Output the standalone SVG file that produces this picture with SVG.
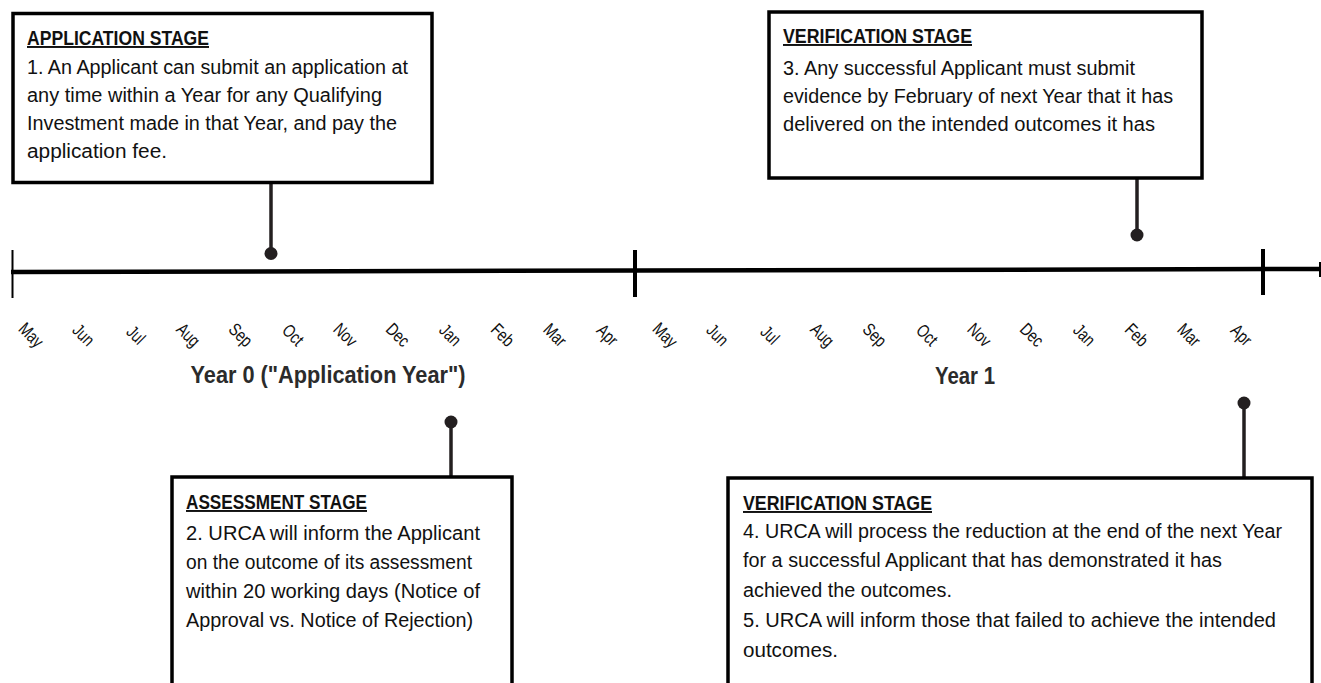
<svg xmlns="http://www.w3.org/2000/svg" width="1321" height="683" viewBox="0 0 1321 683">
<style>
.box{fill:#fff;stroke:#000;stroke-width:3.5}
.t{font-family:"Liberation Sans",Arial,sans-serif;font-size:19.5px;fill:#111}
.h{font-weight:bold;text-decoration:underline}
.m{font-family:"Liberation Sans",Arial,sans-serif;font-size:18px;fill:#111;text-anchor:middle}
.yr{font-family:"Liberation Sans",Arial,sans-serif;font-size:23px;font-weight:bold;fill:#2b2b2b;text-anchor:middle}
.con{stroke:#231f20;stroke-width:3.5;fill:none}
.dot{fill:#231f20}
.tick{stroke:#000;stroke-width:4}
</style>
<rect width="1321" height="683" fill="#fff"/>
<g id="timeline">
  <line x1="11" y1="272" x2="1321" y2="269" stroke="#000" stroke-width="4.5"/>
  <line x1="12.5" y1="250" x2="12.5" y2="298" stroke="#000" stroke-width="2"/>
  <line class="tick" x1="635" y1="250" x2="635" y2="297"/>
  <line class="tick" x1="1263" y1="249" x2="1263" y2="295"/>
  <line x1="1320" y1="262" x2="1320" y2="277" stroke="#000" stroke-width="2"/>
  <g id="months-year0">
    <text class="m" transform="translate(31,335) rotate(45) scale(0.78,1)" y="6">May</text>
    <text class="m" transform="translate(83.4,335) rotate(45) scale(0.78,1)" y="6">Jun</text>
    <text class="m" transform="translate(135.8,335) rotate(45) scale(0.78,1)" y="6">Jul</text>
    <text class="m" transform="translate(188.2,335) rotate(45) scale(0.78,1)" y="6">Aug</text>
    <text class="m" transform="translate(240.6,335) rotate(45) scale(0.78,1)" y="6">Sep</text>
    <text class="m" transform="translate(293,335) rotate(45) scale(0.78,1)" y="6">Oct</text>
    <text class="m" transform="translate(345.4,335) rotate(45) scale(0.78,1)" y="6">Nov</text>
    <text class="m" transform="translate(397.8,335) rotate(45) scale(0.78,1)" y="6">Dec</text>
    <text class="m" transform="translate(450.2,335) rotate(45) scale(0.78,1)" y="6">Jan</text>
    <text class="m" transform="translate(502.6,335) rotate(45) scale(0.78,1)" y="6">Feb</text>
    <text class="m" transform="translate(555,335) rotate(45) scale(0.78,1)" y="6">Mar</text>
    <text class="m" transform="translate(607.4,335) rotate(45) scale(0.78,1)" y="6">Apr</text>
  </g>
  <g id="months-year1">
    <text class="m" transform="translate(665,335) rotate(45) scale(0.78,1)" y="6">May</text>
    <text class="m" transform="translate(717.4,335) rotate(45) scale(0.78,1)" y="6">Jun</text>
    <text class="m" transform="translate(769.8,335) rotate(45) scale(0.78,1)" y="6">Jul</text>
    <text class="m" transform="translate(822.2,335) rotate(45) scale(0.78,1)" y="6">Aug</text>
    <text class="m" transform="translate(874.6,335) rotate(45) scale(0.78,1)" y="6">Sep</text>
    <text class="m" transform="translate(927,335) rotate(45) scale(0.78,1)" y="6">Oct</text>
    <text class="m" transform="translate(979.4,335) rotate(45) scale(0.78,1)" y="6">Nov</text>
    <text class="m" transform="translate(1031.8,335) rotate(45) scale(0.78,1)" y="6">Dec</text>
    <text class="m" transform="translate(1084.2,335) rotate(45) scale(0.78,1)" y="6">Jan</text>
    <text class="m" transform="translate(1136.6,335) rotate(45) scale(0.78,1)" y="6">Feb</text>
    <text class="m" transform="translate(1189,335) rotate(45) scale(0.78,1)" y="6">Mar</text>
    <text class="m" transform="translate(1241.4,335) rotate(45) scale(0.78,1)" y="6">Apr</text>
  </g>
  <text class="yr" x="328" y="383" textLength="275" lengthAdjust="spacingAndGlyphs">Year 0 ("Application Year")</text>
  <text class="yr" x="965" y="384" textLength="60" lengthAdjust="spacingAndGlyphs">Year 1</text>
</g>
<g id="connectors">
  <line class="con" x1="271" y1="183" x2="271" y2="253"/>
  <circle class="dot" cx="271" cy="253.5" r="6.5"/>
  <line class="con" x1="1137" y1="178" x2="1137" y2="235"/>
  <circle class="dot" cx="1137" cy="235" r="6.5"/>
  <line class="con" x1="451" y1="422" x2="451" y2="477"/>
  <circle class="dot" cx="451" cy="422" r="6.5"/>
  <line class="con" x1="1244" y1="403" x2="1244" y2="478"/>
  <circle class="dot" cx="1244" cy="403" r="6.5"/>
</g>
<g id="application-stage">
  <rect class="box" x="13" y="13.5" width="419" height="169"/>
  <text class="t h" x="27" y="45" textLength="182" lengthAdjust="spacingAndGlyphs">APPLICATION STAGE</text>
  <text class="t" x="27" y="74" textLength="381" lengthAdjust="spacingAndGlyphs">1. An Applicant can submit an application at</text>
  <text class="t" x="27" y="102" textLength="355" lengthAdjust="spacingAndGlyphs">any time within a Year for any Qualifying</text>
  <text class="t" x="27" y="130" textLength="370" lengthAdjust="spacingAndGlyphs">Investment made in that Year, and pay the</text>
  <text class="t" x="27" y="158" textLength="140" lengthAdjust="spacingAndGlyphs">application fee.</text>
</g>
<g id="verification-stage-1">
  <rect class="box" x="769" y="12" width="433" height="166"/>
  <text class="t h" x="783" y="43" textLength="189" lengthAdjust="spacingAndGlyphs">VERIFICATION STAGE</text>
  <text class="t" x="783" y="75" textLength="352" lengthAdjust="spacingAndGlyphs">3. Any successful Applicant must submit</text>
  <text class="t" x="783" y="103" textLength="390" lengthAdjust="spacingAndGlyphs">evidence by February of next Year that it has</text>
  <text class="t" x="783" y="131" textLength="372" lengthAdjust="spacingAndGlyphs">delivered on the intended outcomes it has</text>
</g>
<g id="assessment-stage">
  <rect class="box" x="172" y="477" width="340" height="230"/>
  <text class="t h" x="186" y="509" textLength="181" lengthAdjust="spacingAndGlyphs">ASSESSMENT STAGE</text>
  <text class="t" x="186" y="540" textLength="294" lengthAdjust="spacingAndGlyphs">2. URCA will inform the Applicant</text>
  <text class="t" x="186" y="569" textLength="286" lengthAdjust="spacingAndGlyphs">on the outcome of its assessment</text>
  <text class="t" x="186" y="598" textLength="294" lengthAdjust="spacingAndGlyphs">within 20 working days (Notice of</text>
  <text class="t" x="186" y="627" textLength="287" lengthAdjust="spacingAndGlyphs">Approval vs. Notice of Rejection)</text>
</g>
<g id="verification-stage-2">
  <rect class="box" x="728" y="478" width="584" height="230"/>
  <text class="t h" x="743" y="510" textLength="189" lengthAdjust="spacingAndGlyphs">VERIFICATION STAGE</text>
  <text class="t" x="743" y="538" textLength="539" lengthAdjust="spacingAndGlyphs">4. URCA will process the reduction at the end of the next Year</text>
  <text class="t" x="743" y="567" textLength="479" lengthAdjust="spacingAndGlyphs">for a successful Applicant that has demonstrated it has</text>
  <text class="t" x="743" y="597" textLength="209" lengthAdjust="spacingAndGlyphs">achieved the outcomes.</text>
  <text class="t" x="743" y="627" textLength="533" lengthAdjust="spacingAndGlyphs">5. URCA will inform those that failed to achieve the intended</text>
  <text class="t" x="743" y="657" textLength="95" lengthAdjust="spacingAndGlyphs">outcomes.</text>
</g>
</svg>
